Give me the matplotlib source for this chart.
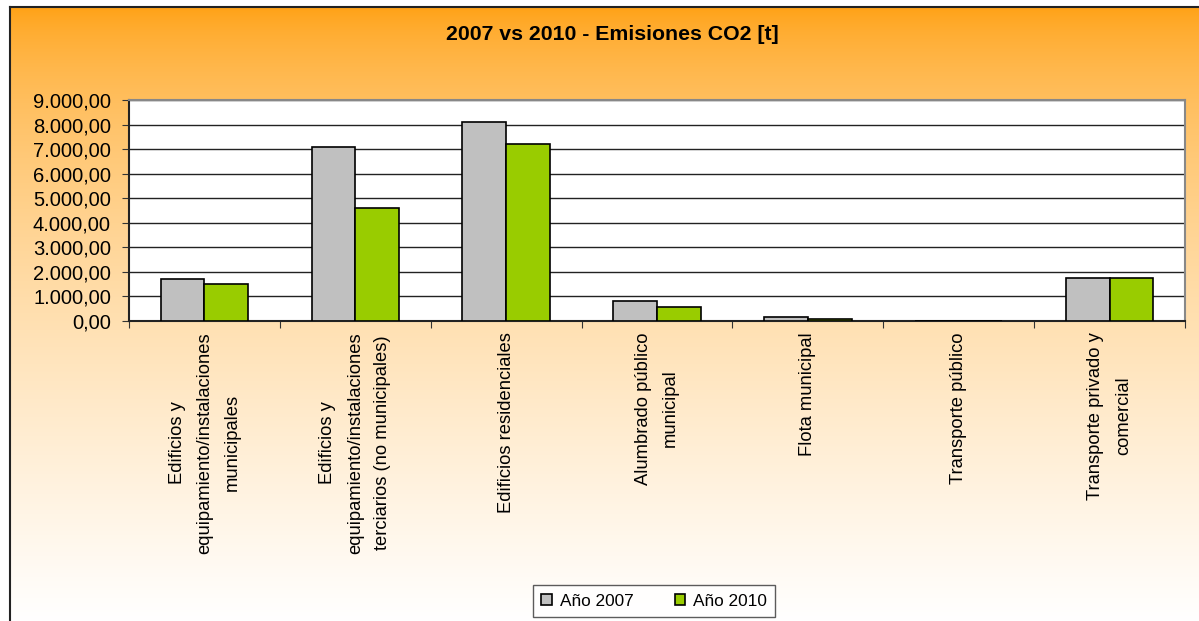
import numpy as np
import matplotlib
matplotlib.use("Agg")
import matplotlib.pyplot as plt
from matplotlib.patches import Rectangle

categories = [
    "Edificios y\nequipamiento/instalaciones\nmunicipales",
    "Edificios y\nequipamiento/instalaciones\nterciarios (no municipales)",
    "Edificios residenciales",
    "Alumbrado público\nmunicipal",
    "Flota municipal",
    "Transporte público",
    "Transporte privado y\ncomercial",
]
series_names = ["Año 2007", "Año 2010"]
values_2007 = [1710, 7100, 8120, 800, 160, 0, 1760]
values_2010 = [1490, 4590, 7220, 580, 80, 0, 1760]
yticks = [0, 1000, 2000, 3000, 4000, 5000, 6000, 7000, 8000, 9000]
ytick_labels = ["0,00", "1.000,00", "2.000,00", "3.000,00", "4.000,00",
                "5.000,00", "6.000,00", "7.000,00", "8.000,00", "9.000,00"]
colors = ["#C0C0C0", "#99CC00"]

plt.rcParams['font.family'] = ['Liberation Sans', 'DejaVu Sans']

W, H = 1199, 621
fig = plt.figure(figsize=(W / 100, H / 100), dpi=100)

# gradient background
bg = fig.add_axes([0, 0, 1, 1], zorder=0)
t = np.linspace(0, 1, 600)
t = np.clip(t, 0, 1) ** 0.55
top = np.array([255, 153, 0]) / 255.0
bot = np.array([255, 255, 255]) / 255.0
grad = top[None, :] * (1 - t[:, None]) + bot[None, :] * t[:, None]
img = np.repeat(grad[:, None, :], 2, axis=1)
bg.imshow(img, aspect='auto', extent=[0, 1, 0, 1], origin='upper')
bg.set_xlim(0, 1)
bg.set_ylim(0, 1)
bg.axis('off')
bg.add_patch(Rectangle((0, 0), 9 / W, 1, color='white', transform=bg.transAxes, zorder=2))
bg.add_patch(Rectangle((0, 1 - 6 / H), 1, 6 / H, color='white', transform=bg.transAxes, zorder=2))
bg.plot([9.5 / W, 9.5 / W], [0, 1 - 6.5 / H], color='#222222', lw=1.5, transform=bg.transAxes, zorder=3)
bg.plot([9.5 / W, 1], [1 - 6.5 / H, 1 - 6.5 / H], color='#222222', lw=1.5, transform=bg.transAxes, zorder=3)

left, right, topp, botp = 129, 1185, 100, 321
ax = fig.add_axes([left / W, 1 - botp / H, (right - left) / W, (botp - topp) / H], zorder=1)
ax.set_facecolor('white')

x = np.arange(len(categories))
bw = 0.29
ax.bar(x - bw / 2, values_2007, bw, color=colors[0], edgecolor='black', linewidth=1.2,
       label=series_names[0], zorder=3)
ax.bar(x + bw / 2, values_2010, bw, color=colors[1], edgecolor='black', linewidth=1.2,
       label=series_names[1], zorder=3)

ax.set_xlim(-0.5, len(categories) - 0.5)
ax.set_ylim(0, 9000)
ax.set_yticks(yticks)
ax.set_yticklabels(ytick_labels, fontsize=14.5)
ax.yaxis.grid(True, color='#222222', linewidth=1.0, zorder=1)
ax.set_axisbelow(True)

ax.set_xticks(np.arange(len(categories) + 1) - 0.5)
ax.set_xticklabels([])
ax.tick_params(axis='x', length=5, direction='out', color='#333333')
ax.tick_params(axis='y', length=5, direction='out', color='#333333', pad=8)

for s in ['top', 'right']:
    ax.spines[s].set_color('#888888')
    ax.spines[s].set_linewidth(1.5)
for s in ['left', 'bottom']:
    ax.spines[s].set_color('#222222')
    ax.spines[s].set_linewidth(1.5)

for i, lab in enumerate(categories):
    ax.annotate(lab, xy=(i, 0), xycoords=('data', 'axes fraction'),
                xytext=(0, -8), textcoords='offset points',
                rotation=90, ha='center', va='top', multialignment='center',
                fontsize=13.2, linespacing=1.8)

fig.text(0.5 + 13 / W, 1 - 35 / H, "2007 vs 2010 - Emisiones CO2 [t]", ha='center', va='center',
         fontsize=15.3, fontweight='bold')

leg = fig.legend(loc='center', bbox_to_anchor=(654 / W, 1 - 601 / H), ncol=2,
                 fontsize=12.4, frameon=True, fancybox=False, edgecolor='#333333',
                 handlelength=0.6, handleheight=0.6, columnspacing=2.4,
                 handletextpad=0.45, borderpad=0.5)
leg.get_frame().set_linewidth(1.0)
leg.get_frame().set_facecolor('white')

fig.savefig("out.png", dpi=100)
